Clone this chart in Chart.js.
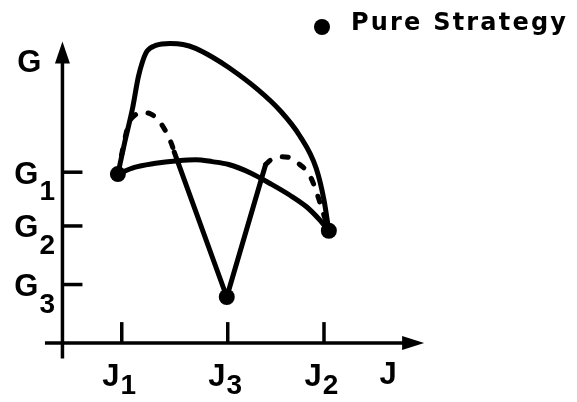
<!DOCTYPE html>
<html lang="en">
<head>
<meta charset="UTF-8">
<title>Pure Strategy</title>
<script src="https://cdn.jsdelivr.net/npm/chart.js@4.4.1/dist/chart.umd.min.js"></script>
<style>
  html, body { margin:0; padding:0; background:#ffffff; }
  #sketch { display:block; }
</style>
</head>
<body>
<canvas id="sketch" width="577" height="402"></canvas>
<script>
// tick positions on the J and G axes, with the subscript of each label
const jTickValues = [6.1, 17.0, 26.9];
const jTickSubs = ['1', '3', '2'];
const gTickValues = [17.8, 12.2, 6.1];
const gTickSubs = ['1', '2', '3'];

// pure strategies (J, G)
const pureJ = [5.7, 16.9, 27.4];
const pureG = [17.6, 4.8, 11.7];

// upper solid boundary, J1 -> J2
const upperCurve = [
  [5.7, 17.6], [6.4, 20.9], [7.2, 24.4], [7.8, 27.7], [8.2, 29.2], [8.7, 30.4],
  [9.6, 31.0], [11.1, 31.2], [12.4, 31.1], [13.7, 30.7], [15.4, 29.8], [17.1, 28.7],
  [20.1, 26.4], [22.4, 24.2], [24.4, 21.6], [26.1, 18.2], [26.9, 14.9], [27.4, 11.7]
];
// lower solid arc, J1 -> J2
const lowerCurve = [
  [5.7, 17.6], [7.4, 18.3], [9.4, 18.7], [11.9, 19.0], [13.7, 19.1], [15.4, 18.9],
  [17.1, 18.6], [19.4, 17.7], [21.4, 16.6], [23.4, 15.4], [25.1, 14.2], [26.4, 12.9],
  [27.4, 11.7]
];
// the V through J3
const vCurve = [[11.5, 19.9], [16.9, 4.8], [20.9, 18.6]];
// dashed pieces near J1 and J2
const dashLeft = [
  [5.7, 17.6], [6.2, 20.2], [6.8, 22.8], [7.4, 23.7], [8.2, 24.0], [9.0, 23.9],
  [9.8, 23.3], [10.6, 22.1], [11.2, 20.8], [11.5, 19.9]
];
const dashRight = [
  [20.9, 18.6], [21.6, 19.2], [22.5, 19.4], [23.4, 19.3], [24.4, 18.6], [25.3, 17.7],
  [25.9, 16.4], [26.4, 14.9], [26.9, 13.3], [27.4, 11.7]
];

// axis extents: from where each line starts to its arrow tip
const jAxisSpan = [-1.8, 37.2];
const gAxisSpan = [-1.6, 31.4];
const jTitleAt = 33.5;
const gTitleAt = 29.4;

const toPts = arr => arr.map(p => ({x: p[0], y: p[1]}));

function curve(points, dashed) {
  return {
    data: toPts(points),
    showLine: true,
    borderColor: '#000',
    borderWidth: 5,
    borderDash: dashed ? [6, 13] : [],
    borderCapStyle: 'round',
    borderJoinStyle: 'round',
    cubicInterpolationMode: 'monotone',
    pointRadius: 0,
    clip: false
  };
}

const LABEL_FONT = 'bold 31px "Liberation Sans", Arial, sans-serif';
const SUB_FONT = 'bold 28px "Liberation Sans", Arial, sans-serif';

// axes with arrowheads, tick marks, labels and the legend entry
const sketchAxes = {
  id: 'sketchAxes',
  beforeDatasetsDraw(chart) {
    const {ctx, scales: {x, y}} = chart;
    const ox = x.getPixelForValue(0), oy = y.getPixelForValue(0);
    ctx.save();
    ctx.strokeStyle = '#000';
    ctx.fillStyle = '#000';
    ctx.lineWidth = 3.5;

    // J axis
    const jl = x.getPixelForValue(jAxisSpan[0]), jt = x.getPixelForValue(jAxisSpan[1]);
    ctx.beginPath(); ctx.moveTo(jl, oy); ctx.lineTo(jt - 15, oy); ctx.stroke();
    ctx.beginPath(); ctx.moveTo(jt, oy); ctx.lineTo(jt - 22, oy - 7); ctx.lineTo(jt - 22, oy + 7); ctx.closePath(); ctx.fill();

    // G axis
    const gb = y.getPixelForValue(gAxisSpan[0]), gt = y.getPixelForValue(gAxisSpan[1]);
    ctx.beginPath(); ctx.moveTo(ox, gb); ctx.lineTo(ox, gt + 15); ctx.stroke();
    ctx.beginPath(); ctx.moveTo(ox, gt); ctx.lineTo(ox - 7.5, gt + 22); ctx.lineTo(ox + 7.5, gt + 22); ctx.closePath(); ctx.fill();

    // tick marks
    jTickValues.forEach(v => {
      const px = x.getPixelForValue(v);
      ctx.beginPath(); ctx.moveTo(px, oy); ctx.lineTo(px, oy - 21); ctx.stroke();
    });
    gTickValues.forEach(v => {
      const py = y.getPixelForValue(v);
      ctx.beginPath(); ctx.moveTo(ox, py); ctx.lineTo(ox + 20, py); ctx.stroke();
    });
    ctx.restore();
  },
  afterDraw(chart) {
    const {ctx, scales: {x, y}} = chart;
    const ox = x.getPixelForValue(0), oy = y.getPixelForValue(0);
    ctx.save();
    ctx.fillStyle = '#000';
    ctx.textBaseline = 'alphabetic';

    // G labels left of the axis
    gTickValues.forEach((v, i) => {
      const py = y.getPixelForValue(v);
      ctx.font = LABEL_FONT; ctx.textAlign = 'right';
      ctx.fillText('G', ox - 24, py + 11.5);
      ctx.font = SUB_FONT; ctx.textAlign = 'left';
      ctx.fillText(gTickSubs[i], ox - 23, py + 28);
    });
    ctx.font = LABEL_FONT; ctx.textAlign = 'right';
    ctx.fillText('G', ox - 21, y.getPixelForValue(gTitleAt) + 11);

    // J labels under the axis
    jTickValues.forEach((v, i) => {
      const px = x.getPixelForValue(v);
      ctx.font = LABEL_FONT;
      const wm = ctx.measureText('J').width;
      ctx.font = SUB_FONT;
      const ws = ctx.measureText(jTickSubs[i]).width;
      const left = px - 3 - (wm + ws) / 2;
      ctx.textAlign = 'left';
      ctx.font = LABEL_FONT;
      ctx.fillText('J', left, oy + 43);
      ctx.font = SUB_FONT;
      ctx.fillText(jTickSubs[i], left + wm + 1, oy + 51);
    });
    ctx.font = LABEL_FONT; ctx.textAlign = 'center';
    ctx.fillText('J', x.getPixelForValue(jTitleAt), oy + 41);

    // legend entry
    ctx.beginPath(); ctx.arc(322, 27, 8, 0, Math.PI * 2); ctx.fill();
    ctx.font = 'bold 24px "DejaVu Sans", sans-serif';
    ctx.textAlign = 'left';
    ctx.letterSpacing = '2.2px';
    ctx.fillText('Pure Strategy', 351, 30);
    ctx.restore();
  }
};

new Chart(document.getElementById('sketch'), {
  type: 'scatter',
  data: {
    datasets: [
      curve(upperCurve, false),
      curve(lowerCurve, false),
      Object.assign(curve(vCurve, false), {cubicInterpolationMode: 'default', tension: 0}),
      curve(dashLeft, true),
      curve(dashRight, true),
      {
        label: 'Pure Strategy',
        data: pureJ.map((j, i) => ({x: j, y: pureG[i]})),
        showLine: false,
        pointRadius: 8,
        pointBackgroundColor: '#000',
        pointBorderWidth: 0,
        clip: false
      }
    ]
  },
  options: {
    responsive: false,
    animation: false,
    layout: {padding: 0},
    plugins: {legend: {display: false}, tooltip: {enabled: false}},
    scales: {
      x: {type: 'linear', display: false, min: -5.6, max: 52.1},
      y: {type: 'linear', display: false, min: -5.3, max: 34.9}
    }
  },
  plugins: [sketchAxes]
});
</script>
</body>
</html>
